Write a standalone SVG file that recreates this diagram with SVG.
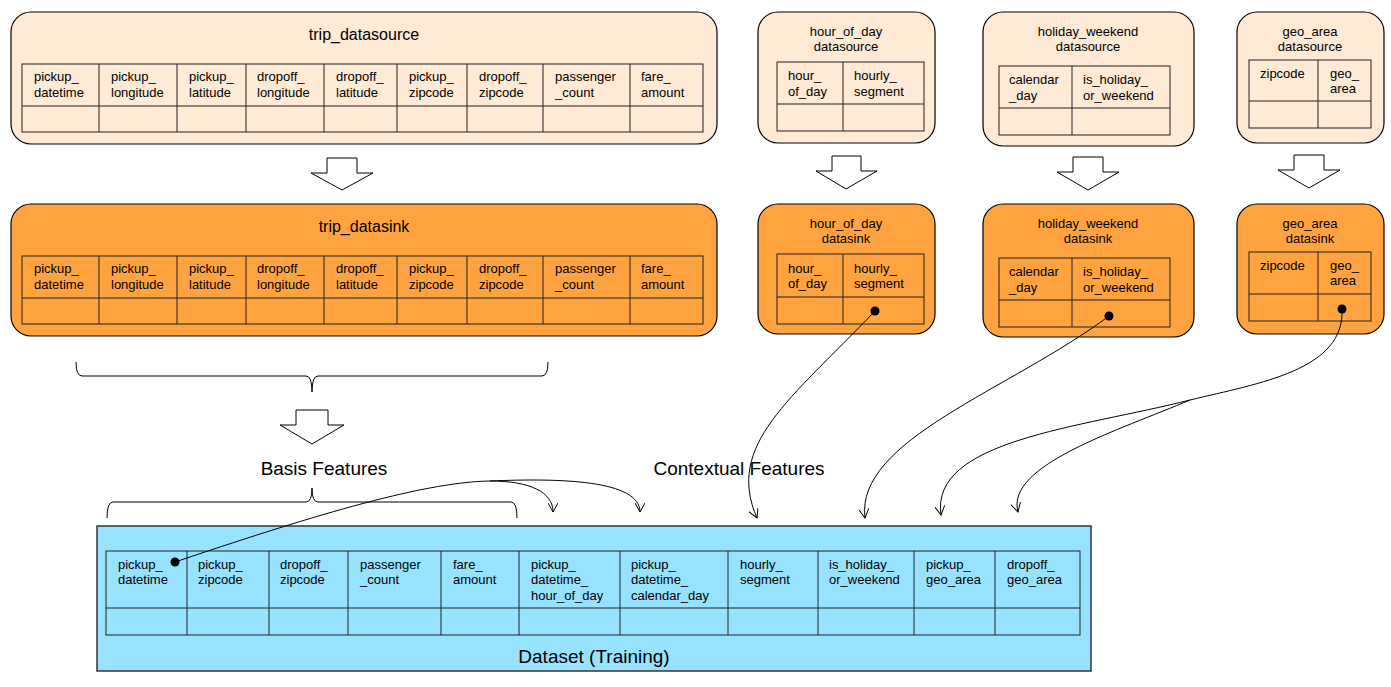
<svg xmlns="http://www.w3.org/2000/svg" width="1391" height="687" viewBox="0 0 1391 687">
<defs>
<style>
.src{fill:#FFEAD5;stroke:#000;stroke-width:1.2}
.snk{fill:#FFA340;stroke:#000;stroke-width:1.2}
.ds{fill:#97E2FF;stroke:#333;stroke-width:1.5}
.tb{fill:none;stroke:#222;stroke-width:1}
.t{font-family:"Liberation Sans",Arial,sans-serif;font-size:13px;fill:#000}
.tc{font-family:"Liberation Sans",Arial,sans-serif;font-size:13px;fill:#000;text-anchor:middle}
.big{font-family:"Liberation Sans",Arial,sans-serif;font-size:16px;fill:#000;text-anchor:middle}
.lbl{font-family:"Liberation Sans",Arial,sans-serif;font-size:19px;fill:#000;text-anchor:middle}
.ba{fill:#fff;stroke:#000;stroke-width:1}
.c{fill:none;stroke:#000;stroke-width:1}
</style>
<marker id="ah" viewBox="0 0 10 10" refX="9" refY="5" markerWidth="10" markerHeight="10" markerUnits="userSpaceOnUse" orient="auto">
<path d="M0,0 L9,5 L0,10" fill="none" stroke="#000" stroke-width="1"/>
</marker>
</defs>
<rect width="1391" height="687" fill="#fff"/>

<g id="trip_datasource">
<rect class="src" x="11" y="12" width="706" height="132" rx="20"/>
<text class="big" x="364" y="40">trip_datasource</text>
<rect class="tb" x="22" y="64" width="681" height="68"/>
<path class="tb" d="M22,106H703M99,64V132M177,64V132M246,64V132M324,64V132M397,64V132M467,64V132M543,64V132M630,64V132"/>
<text class="t" x="34" y="81">pickup_</text><text class="t" x="34" y="97">datetime</text>
<text class="t" x="111" y="81">pickup_</text><text class="t" x="111" y="97">longitude</text>
<text class="t" x="189" y="81">pickup_</text><text class="t" x="189" y="97">latitude</text>
<text class="t" x="257" y="81">dropoff_</text><text class="t" x="257" y="97">longitude</text>
<text class="t" x="336" y="81">dropoff_</text><text class="t" x="336" y="97">latitude</text>
<text class="t" x="409" y="81">pickup_</text><text class="t" x="409" y="97">zipcode</text>
<text class="t" x="479" y="81">dropoff_</text><text class="t" x="479" y="97">zipcode</text>
<text class="t" x="555" y="81">passenger</text><text class="t" x="555" y="97">_count</text>
<text class="t" x="641" y="81">fare_</text><text class="t" x="641" y="97">amount</text>
</g>

<g id="trip_datasink">
<rect class="snk" x="11" y="204" width="706" height="132" rx="20"/>
<text class="big" x="364" y="232">trip_datasink</text>
<rect class="tb" x="22" y="256" width="681" height="68"/>
<path class="tb" d="M22,298H703M99,256V324M177,256V324M246,256V324M324,256V324M397,256V324M467,256V324M543,256V324M630,256V324"/>
<text class="t" x="34" y="273">pickup_</text><text class="t" x="34" y="289">datetime</text>
<text class="t" x="111" y="273">pickup_</text><text class="t" x="111" y="289">longitude</text>
<text class="t" x="189" y="273">pickup_</text><text class="t" x="189" y="289">latitude</text>
<text class="t" x="257" y="273">dropoff_</text><text class="t" x="257" y="289">longitude</text>
<text class="t" x="336" y="273">dropoff_</text><text class="t" x="336" y="289">latitude</text>
<text class="t" x="409" y="273">pickup_</text><text class="t" x="409" y="289">zipcode</text>
<text class="t" x="479" y="273">dropoff_</text><text class="t" x="479" y="289">zipcode</text>
<text class="t" x="555" y="273">passenger</text><text class="t" x="555" y="289">_count</text>
<text class="t" x="641" y="273">fare_</text><text class="t" x="641" y="289">amount</text>
</g>

<g id="hour_of_day_datasource">
<rect class="src" x="758" y="12" width="177" height="131" rx="20"/>
<text class="tc" x="846" y="36">hour_of_day</text><text class="tc" x="846" y="51">datasource</text>
<rect class="tb" x="777" y="62" width="147" height="69"/>
<path class="tb" d="M777,104H924M843,62V131"/>
<text class="t" x="788" y="80">hour_</text><text class="t" x="788" y="96">of_day</text>
<text class="t" x="854" y="80">hourly_</text><text class="t" x="854" y="96">segment</text>
</g>

<g id="holiday_weekend_datasource">
<rect class="src" x="983" y="12" width="211" height="134" rx="20"/>
<text class="tc" x="1088" y="36">holiday_weekend</text><text class="tc" x="1088" y="51">datasource</text>
<rect class="tb" x="999" y="66" width="171" height="69"/>
<path class="tb" d="M999,108H1170M1072,66V135"/>
<text class="t" x="1009" y="84">calendar</text><text class="t" x="1009" y="100">_day</text>
<text class="t" x="1083" y="84">is_holiday_</text><text class="t" x="1083" y="100">or_weekend</text>
</g>

<g id="geo_area_datasource">
<rect class="src" x="1237" y="12" width="147" height="131" rx="20"/>
<text class="tc" x="1310" y="36">geo_area</text><text class="tc" x="1310" y="51">datasource</text>
<rect class="tb" x="1249" y="60" width="122" height="68"/>
<path class="tb" d="M1249,101H1371M1318,60V128"/>
<text class="t" x="1260" y="78">zipcode</text>
<text class="t" x="1330" y="78">geo_</text><text class="t" x="1330" y="93">area</text>
</g>

<g id="hour_of_day_datasink">
<rect class="snk" x="758" y="204" width="177" height="130" rx="20"/>
<text class="tc" x="846" y="228">hour_of_day</text><text class="tc" x="846" y="243">datasink</text>
<rect class="tb" x="777" y="254" width="147" height="70"/>
<path class="tb" d="M777,297H924M843,254V324"/>
<text class="t" x="788" y="273">hour_</text><text class="t" x="788" y="288">of_day</text>
<text class="t" x="854" y="273">hourly_</text><text class="t" x="854" y="288">segment</text>
</g>

<g id="holiday_weekend_datasink">
<rect class="snk" x="983" y="204" width="211" height="133" rx="20"/>
<text class="tc" x="1088" y="228">holiday_weekend</text><text class="tc" x="1088" y="243">datasink</text>
<rect class="tb" x="999" y="258" width="171" height="69"/>
<path class="tb" d="M999,300H1170M1072,258V327"/>
<text class="t" x="1009" y="276">calendar</text><text class="t" x="1009" y="292">_day</text>
<text class="t" x="1083" y="276">is_holiday_</text><text class="t" x="1083" y="292">or_weekend</text>
</g>

<g id="geo_area_datasink">
<rect class="snk" x="1237" y="204" width="147" height="130" rx="20"/>
<text class="tc" x="1310" y="228">geo_area</text><text class="tc" x="1310" y="243">datasink</text>
<rect class="tb" x="1249" y="252" width="122" height="69"/>
<path class="tb" d="M1249,294H1371M1318,252V321"/>
<text class="t" x="1260" y="270">zipcode</text>
<text class="t" x="1330" y="270">geo_</text><text class="t" x="1330" y="285">area</text>
</g>

<g id="dataset_training">
<rect class="ds" x="97" y="526" width="994" height="145"/>
<rect class="tb" x="106" y="551" width="974" height="84"/>
<path class="tb" d="M106,608H1080M187,551V635M269,551V635M348,551V635M441,551V635M519,551V635M620,551V635M728,551V635M818,551V635M914,551V635M995,551V635"/>
<text class="t" x="118" y="569">pickup_</text><text class="t" x="118" y="584">datetime</text>
<text class="t" x="198" y="569">pickup_</text><text class="t" x="198" y="584">zipcode</text>
<text class="t" x="280" y="569">dropoff_</text><text class="t" x="280" y="584">zipcode</text>
<text class="t" x="360" y="569">passenger</text><text class="t" x="360" y="584">_count</text>
<text class="t" x="453" y="569">fare_</text><text class="t" x="453" y="584">amount</text>
<text class="t" x="531" y="569">pickup_</text><text class="t" x="531" y="584">datetime_</text><text class="t" x="531" y="600">hour_of_day</text>
<text class="t" x="631" y="569">pickup_</text><text class="t" x="631" y="584">datetime_</text><text class="t" x="631" y="600">calendar_day</text>
<text class="t" x="740" y="569">hourly_</text><text class="t" x="740" y="584">segment</text>
<text class="t" x="829" y="569">is_holiday_</text><text class="t" x="829" y="584">or_weekend</text>
<text class="t" x="926" y="569">pickup_</text><text class="t" x="926" y="584">geo_area</text>
<text class="t" x="1007" y="569">dropoff_</text><text class="t" x="1007" y="584">geo_area</text>
<text class="lbl" x="594" y="663">Dataset (Training)</text>
</g>

<g id="labels">
<text class="lbl" x="324" y="475">Basis Features</text>
<text class="lbl" x="739" y="475">Contextual Features</text>
</g>

<g id="block_arrows">
<path class="ba" d="M327,158H357V173H373L342,190L311,173H327Z"/>
<path class="ba" d="M832,156H861V171H877L846,189L816,171H832Z"/>
<path class="ba" d="M1073,157H1103V172H1119L1088,190L1057,172H1073Z"/>
<path class="ba" d="M1294,155H1324V170H1340L1309,188L1278,170H1294Z"/>
<path class="ba" d="M296,410H328V425H344L312,444L280,425H296Z"/>
</g>

<g id="braces">
<path class="c" d="M76,362Q76,376 82,376H306Q312,376 312,392Q312,376 318,376H542Q548,376 548,362"/>
<path class="c" d="M107,518Q107,502 113,502H306Q312,502 312,488Q312,502 318,502H511Q517,502 517,518"/>
</g>

<g id="connectors">
<path class="c" marker-end="url(#ah)" d="M175,562C300,520 420,482 490,481C530,481 553,492 553,512"/>
<path class="c" marker-end="url(#ah)" d="M490,481C560,478 640,480 640,512"/>
<path class="c" marker-end="url(#ah)" d="M875,311C790,400 725,445 757,518"/>
<path class="c" marker-end="url(#ah)" d="M1109,316C1010,390 855,440 865,518"/>
<path class="c" marker-end="url(#ah)" d="M1342,309C1345,370 1260,383 1190,400C1080,428 930,440 941,515"/>
<path class="c" marker-end="url(#ah)" d="M1190,400C1120,430 1005,465 1018,512"/>
<circle cx="175" cy="562" r="4.5" fill="#000"/>
<circle cx="875" cy="311" r="4.5" fill="#000"/>
<circle cx="1109" cy="316" r="4.5" fill="#000"/>
<circle cx="1342" cy="309" r="4.5" fill="#000"/>
</g>
</svg>
